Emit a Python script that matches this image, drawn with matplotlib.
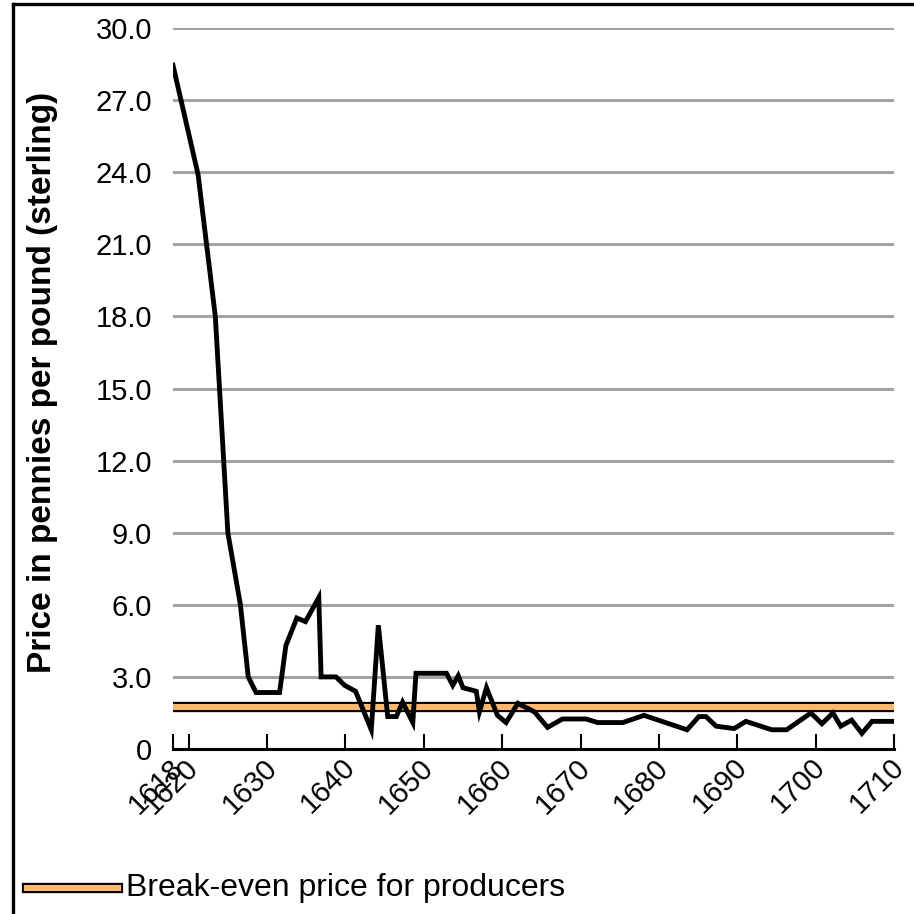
import matplotlib
matplotlib.use("Agg")
import matplotlib.pyplot as plt
import matplotlib.transforms as mtransforms
from matplotlib.lines import Line2D

# ------------------------------------------------------------
# Data
# ------------------------------------------------------------
years = [1618, 1621.2, 1623.4, 1625, 1626.6, 1627.6, 1628.6, 1631.6, 1632.4,
         1633.8, 1634.9, 1636.6, 1636.9, 1638.8, 1639.9, 1641.3, 1643.3,
         1644.2, 1645.4, 1646.5, 1647.3, 1648.6, 1649, 1652.9, 1653.7,
         1654.4, 1655, 1656.7, 1657.1, 1658, 1659.4, 1660.5, 1662, 1664.1,
         1665.8, 1667.7, 1670.7, 1672.2, 1675.4, 1678.1, 1683.6, 1685.1,
         1686, 1687.3, 1689.6, 1691.1, 1694.4, 1696.3, 1699.4, 1700.8,
         1702.2, 1703.2, 1704.6, 1705.9, 1707.2, 1709.8]
prices = [28.45, 23.9, 18.0, 9.0, 6.0, 3.0, 2.35, 2.35, 4.3,
          5.45, 5.3, 6.3, 3.0, 3.0, 2.65, 2.4, 0.8,
          5.15, 1.35, 1.35, 1.95, 1.1, 3.15, 3.15, 2.65,
          3.05, 2.55, 2.4, 1.55, 2.55, 1.4, 1.1, 1.9, 1.55,
          0.9, 1.25, 1.25, 1.1, 1.1, 1.4, 0.8, 1.35,
          1.35, 0.95, 0.85, 1.15, 0.8, 0.8, 1.5, 1.05,
          1.5, 0.95, 1.2, 0.65, 1.15, 1.15]

break_even = 1.75
x_ticks = [1618, 1620, 1630, 1640, 1650, 1660, 1670, 1680, 1690, 1700, 1710]
y_ticks = [0, 3, 6, 9, 12, 15, 18, 21, 24, 27, 30]
y_labels = ["0"] + [f"{v:.1f}" for v in y_ticks[1:]]

ORANGE = "#fcb86e"
GRID = "#a3a3a3"

plt.rcParams["font.family"] = ["Liberation Sans", "DejaVu Sans"]

fig = plt.figure(figsize=(9.14, 9.14), dpi=100)
ax = fig.add_axes([173 / 914, 165 / 914, 721 / 914, 721 / 914])

# gridlines (no gridline at 0, the axis sits there)
for v in y_ticks[1:]:
    ax.axhline(v, color=GRID, lw=2.2, zorder=1)

# break-even band: black outline with orange core
ax.axhline(break_even, color="black", lw=7.4, zorder=2)
ax.axhline(break_even, color=ORANGE, lw=4.4, zorder=3)

ax.plot(years, prices, color="black", lw=3.5, solid_joinstyle="miter", zorder=4)

ax.set_xlim(1618, 1710)
ax.set_ylim(0, 30)

for s in ["left", "right", "top"]:
    ax.spines[s].set_visible(False)
ax.spines["bottom"].set_linewidth(2.2)

ax.set_xticks(x_ticks)
ax.set_xticklabels([str(x) for x in x_ticks], rotation=45, ha="right",
                   va="top", rotation_mode="anchor", fontsize=21)
ax.tick_params(axis="x", direction="in", length=11, width=1.5, pad=3)
shift = mtransforms.ScaledTranslation(-0.045, 0, fig.dpi_scale_trans)
for lab in ax.get_xticklabels():
    lab.set_transform(lab.get_transform() + shift)

ax.set_yticks(y_ticks)
ax.set_yticklabels(y_labels, fontsize=21)
ax.tick_params(axis="y", length=0, pad=15)

fig.text(43 / 914, 1 - 382 / 914, "Price in pennies per pound (sterling)",
         rotation=90, ha="center", va="center", fontsize=24, fontweight="bold")

# legend at the bottom
ly = 1 - 888 / 914
fig.add_artist(Line2D([27 / 914, 118 / 914], [ly, ly], color="black", lw=7.4))
fig.add_artist(Line2D([27 / 914, 118 / 914], [ly, ly], color=ORANGE, lw=4.4))
fig.text(126 / 914, ly, "Break-even price for producers", ha="left",
         va="center", fontsize=23)

# outer frame (left and top edges only are visible)
fig.add_artist(Line2D([13 / 914, 13 / 914], [-0.1, 1 - 4 / 914], color="black", lw=2.4))
fig.add_artist(Line2D([13 / 914, 1.1], [1 - 4 / 914, 1 - 4 / 914], color="black", lw=2.4))

fig.savefig("out.png", dpi=100)
